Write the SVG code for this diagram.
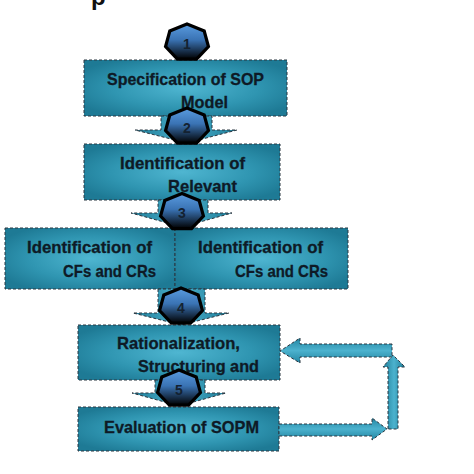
<svg xmlns="http://www.w3.org/2000/svg" width="474" height="474" viewBox="0 0 474 474">
  <style>
    .box { fill: url(#boxGrad); stroke: #2b3640; stroke-width: 1; stroke-dasharray: 3 2; }
    .arrV { fill: url(#arrGradV); stroke: #2b3640; stroke-width: 1; stroke-dasharray: 3 2; }
    .arrH { fill: url(#arrGradH); stroke: #2b3640; stroke-width: 1; stroke-dasharray: 3 2; }
    .lbl { font-family: "Liberation Sans", Arial, sans-serif; font-weight: bold; font-size: 17px; fill: #0e1a26; stroke: #0e1a26; stroke-width: 0.3; }
    .num { font-family: "Liberation Sans", Arial, sans-serif; font-weight: bold; font-size: 14px; fill: #142231; text-anchor: middle; }
    .hept { fill: url(#heptGrad); stroke: #000; stroke-width: 3.2; stroke-linejoin: miter; }
  </style>
  <defs>
    <radialGradient id="boxGrad" cx="0.5" cy="0.5" r="0.6">
      <stop offset="0" stop-color="#4fb6d1"/>
      <stop offset="0.6" stop-color="#2f95b1"/>
      <stop offset="1" stop-color="#1e7a95"/>
    </radialGradient>
    <linearGradient id="arrGradV" x1="0" y1="0" x2="1" y2="0">
      <stop offset="0" stop-color="#1f7c97"/>
      <stop offset="0.5" stop-color="#4cb2ce"/>
      <stop offset="1" stop-color="#1f7c97"/>
    </linearGradient>
    <linearGradient id="arrGradH" x1="0" y1="0" x2="0" y2="1">
      <stop offset="0" stop-color="#2385a1"/>
      <stop offset="0.5" stop-color="#4cb2ce"/>
      <stop offset="1" stop-color="#2385a1"/>
    </linearGradient>
    <linearGradient id="heptGrad" x1="0" y1="0" x2="0" y2="1">
      <stop offset="0" stop-color="#5a9ce0"/>
      <stop offset="0.45" stop-color="#3a73b4"/>
      <stop offset="1" stop-color="#000000"/>
    </linearGradient>
    <polygon id="hept" class="hept" points="0,-18.5 17.2,-11.53 21.45,4.12 9.55,16.67 -9.55,16.67 -21.45,4.12 -17.2,-11.53"/>
  </defs>

  <rect width="474" height="474" fill="#ffffff"/>

  <!-- cropped title fragment -->
  <text x="91" y="5" font-family="Liberation Sans, Arial, sans-serif" font-weight="bold" font-size="24" fill="#111">p</text>

  <g id="node1">
    <rect class="box" x="84" y="60" width="203" height="56"/>
    <text class="lbl" x="107" y="85" textLength="157" lengthAdjust="spacingAndGlyphs">Specification of SOP</text>
    <text class="lbl" x="181" y="108" textLength="47" lengthAdjust="spacingAndGlyphs">Model</text>
  </g>

  <g id="node2">
    <rect class="box" x="84" y="144" width="196" height="56"/>
    <text class="lbl" x="120" y="169" textLength="125" lengthAdjust="spacingAndGlyphs">Identification of</text>
    <text class="lbl" x="168" y="192" textLength="69" lengthAdjust="spacingAndGlyphs">Relevant</text>
  </g>

  <g id="node3a">
    <rect class="box" x="5" y="228" width="170" height="61"/>
    <text class="lbl" x="27" y="253" textLength="125" lengthAdjust="spacingAndGlyphs">Identification of</text>
    <text class="lbl" x="63" y="277" textLength="93" lengthAdjust="spacingAndGlyphs">CFs and CRs</text>
  </g>

  <g id="node3b">
    <rect class="box" x="175" y="228" width="173" height="61"/>
    <text class="lbl" x="198" y="253" textLength="125" lengthAdjust="spacingAndGlyphs">Identification of</text>
    <text class="lbl" x="235" y="277" textLength="93" lengthAdjust="spacingAndGlyphs">CFs and CRs</text>
  </g>

  <g id="node4">
    <rect class="box" x="78" y="325" width="202" height="55"/>
    <text class="lbl" x="117" y="349" textLength="123" lengthAdjust="spacingAndGlyphs">Rationalization,</text>
    <text class="lbl" x="138" y="372" textLength="121" lengthAdjust="spacingAndGlyphs">Structuring and</text>
  </g>

  <g id="node5">
    <rect class="box" x="78" y="407" width="201" height="44"/>
    <text class="lbl" x="104" y="433" textLength="155" lengthAdjust="spacingAndGlyphs">Evaluation of SOPM</text>
  </g>

  <g id="connectors">
    <polygon class="arrV" points="161,116 212,116 212,130 237,130 187,143 135,130 161,130"/>
    <polygon class="arrV" points="158,200 208,200 208,213 232,213 182,227 131,213 158,213"/>
    <polygon class="arrV" points="158,289 205,289 205,313 229,313 181,325 133,313 158,313"/>
    <polygon class="arrV" points="155,380 205,380 205,393 226,393 179,406 132,393 155,393"/>
    <!-- feedback loop -->
    <polygon class="arrH" points="279,424 372,424 372,418 387,429 372,440 372,436 279,436"/>
    <polygon class="arrV" points="388,429 388,367 383,367 393,355 405,367 398,367 398,429"/>
    <polygon class="arrH" points="392,344 300,344 300,338 280,351 300,363 300,357 392,357"/>
  </g>

  <g id="step1"><use href="#hept" x="187" y="42.5"/><text class="num" x="187" y="49">1</text></g>
  <g id="step2"><use href="#hept" x="187" y="126.5"/><text class="num" x="187" y="133">2</text></g>
  <g id="step3"><use href="#hept" x="182" y="212"/><text class="num" x="182" y="218">3</text></g>
  <g id="step4"><use href="#hept" x="181" y="306.5"/><text class="num" x="181" y="313">4</text></g>
  <g id="step5"><use href="#hept" x="179" y="388.5"/><text class="num" x="179" y="395">5</text></g>
</svg>
